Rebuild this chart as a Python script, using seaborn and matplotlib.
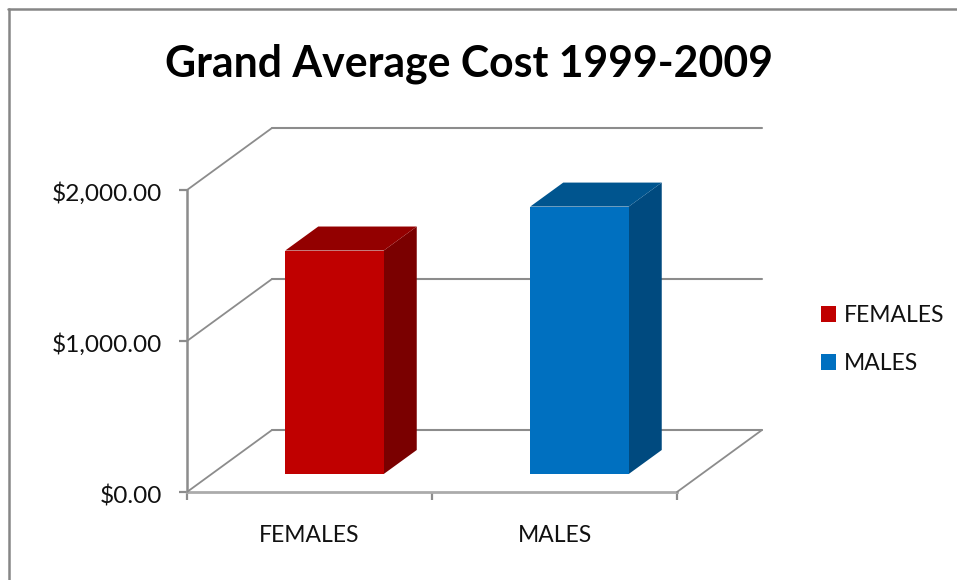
import matplotlib
matplotlib.use("Agg")
import matplotlib.pyplot as plt
import seaborn as sns
from matplotlib.lines import Line2D
from matplotlib.patches import Polygon
from matplotlib.transforms import ScaledTranslation

categories = ["FEMALES", "MALES"]
avg_cost = [1480, 1771]
front_colors = ["#C00000", "#0070C0"]
side_colors = ["#7A0000", "#004A7F"]
top_colors = ["#930000", "#00558F"]
y_ticks = [0, 1000, 2000]
y_labels = ["$0.00", "$1,000.00", "$2,000.00"]
title = "Grand Average Cost 1999-2009"

W, H = 957, 580
AX_L, AX_R, AX_T, AX_B = 187, 677, 190, 492
GRID = "#8C8C8C"
TEXT = "#111111"

sns.set_theme(style="white")
plt.rcParams["font.family"] = ["Lato", "DejaVu Sans"]

fig = plt.figure(figsize=(W / 100, H / 100), dpi=100, facecolor="white")


def make_axes(dx, dy, zorder):
    a = fig.add_axes([(AX_L + dx) / W, (H - AX_B - dy) / H,
                      (AX_R - AX_L) / W, (AX_B - AX_T) / H], zorder=zorder)
    a.patch.set_alpha(0)
    return a


def px_line(xs, ys, **kw):
    fig.add_artist(Line2D([x / W for x in xs], [1 - y / H for y in ys],
                          transform=fig.transFigure, **kw))


# back wall with the gridlines
back = make_axes(85, -62, 0)
back.set_xlim(-0.5, 1.5)
back.set_ylim(0, 2000)
back.set_yticks(y_ticks)
back.set_xticks([])
back.set_yticklabels([])
back.grid(axis="y", color=GRID, lw=1.5)
for line in back.get_ygridlines():
    line.set_clip_on(False)
back.tick_params(left=False)
sns.despine(ax=back, left=True, bottom=True)

# front plane carries the axes
ax = make_axes(0, 0, 1)
ax.set_xlim(-0.5, 1.5)
ax.set_ylim(0, 2000)
ax.set_yticks(y_ticks)
ax.set_yticklabels(y_labels, fontsize=17.6, color=TEXT)
ax.set_xticks([-0.5, 0.5, 1.5])
ax.set_xticklabels([])
ax.set_xticks([0, 1], minor=True)
ax.set_xticklabels(categories, minor=True, fontsize=16.5, color=TEXT)
ax.tick_params(axis="both", which="major", length=5.8, width=1.6, color=GRID,
               left=True, bottom=True)
ax.tick_params(axis="y", pad=12)
ax.tick_params(axis="x", which="minor", length=0, pad=24)
sns.despine(ax=ax)
ax.spines["left"].set_color(GRID)
ax.spines["left"].set_linewidth(1.8)
ax.spines["bottom"].set_color("#ABABAB")
ax.spines["bottom"].set_linewidth(2.0)

# y labels sit slightly lower than the ticks in the original
nudge = ScaledTranslation(0, -2 / 100, fig.dpi_scale_trans)
for label in ax.get_yticklabels():
    label.set_transform(label.get_transform() + nudge)

# depth lines from front plane to back wall
for v in y_ticks:
    py = AX_B - (AX_B - AX_T) * v / 2000
    px_line([AX_L, AX_L + 85], [py, py - 62], color=GRID, lw=1.3)
px_line([AX_R, AX_R + 85], [AX_B, AX_B - 62], color=GRID, lw=1.3)

# bars sit a little behind the front plane
ax_bar = make_axes(25, -18, 2)
sns.barplot(x=categories, y=avg_cost, hue=categories, palette=front_colors,
            width=0.402, saturation=1, linewidth=0, ax=ax_bar, legend=True)
ax_bar.set_xlim(-0.5, 1.5)
ax_bar.set_ylim(0, 2000)

depth_x = 33 / 245
depth_y = 24 * 2000 / (AX_B - AX_T)
for bar, side, top in zip(ax_bar.patches[:2], side_colors, top_colors):
    x0, x1 = bar.get_x(), bar.get_x() + bar.get_width()
    h = bar.get_height()
    ax_bar.add_patch(Polygon([(x1, 0), (x1 + depth_x, depth_y),
                              (x1 + depth_x, h + depth_y), (x1, h)],
                             facecolor=side, edgecolor="none", clip_on=False, zorder=0.9))
    ax_bar.add_patch(Polygon([(x0, h), (x0 + depth_x, h + depth_y),
                              (x1 + depth_x, h + depth_y), (x1, h)],
                             facecolor=top, edgecolor="none", clip_on=False, zorder=0.9))

sns.move_legend(ax_bar, "center left",
                bbox_to_anchor=(800 / W, 1 - 339.5 / H),
                bbox_transform=fig.transFigure,
                frameon=False, title=None, fontsize=16.5,
                handlelength=0.65, handleheight=0.65, handletextpad=0.36,
                labelspacing=1.17, labelcolor=TEXT)
ax_bar.axis("off")

# outer chart frame, only left and top show in the crop
px_line([8.5, 8.5], [9, H], color="#868686", lw=1.8)
px_line([8, W], [9, 9], color="#868686", lw=1.8)

fig.text(469 / W, 1 - 77 / H, title, ha="center", va="baseline",
         fontsize=30.8, fontweight="bold", color="black")

fig.savefig("out.png", dpi=100)
plt.close(fig)
